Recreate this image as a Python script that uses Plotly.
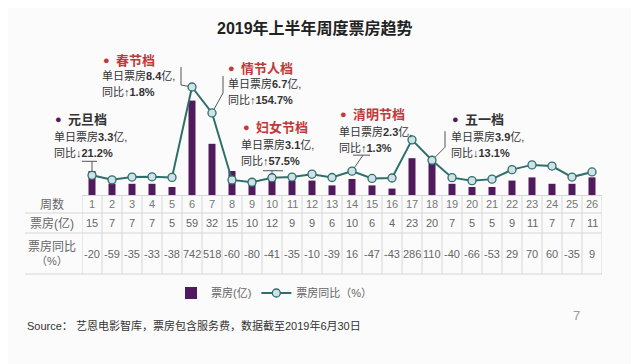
import plotly.graph_objects as go

# ---------------- data ----------------
weeks = list(range(1, 27))
box_office = [15, 7, 7, 7, 5, 59, 32, 15, 10, 12, 9, 9, 6, 10, 6, 4, 23, 20, 7, 5, 5, 9, 11, 7, 7, 11]
yoy = [-20, -59, -35, -33, -38, 742, 518, -60, -80, -41, -35, -10, -39, 16, -47, -43,
       286, 110, -40, -66, -53, 29, 70, 60, -35, 9]

row_labels = ["周数", "票房(亿)", "票房同比"]
callout_titles = ["元旦档", "春节档", "情节人档", "妇女节档", "清明节档", "五一档"]
callout_weeks = [1, 6, 7, 10, 14, 18]
callout_daily = ["3.3", "8.4", "6.7", "3.1", "2.3", "3.9"]
callout_arrow = ["↓", "↑", "↑", "↑", "↑", "↓"]
callout_pct = ["21.2%", "1.8%", "154.7%", "57.5%", "1.3%", "13.1%"]

title = "2019年上半年周度票房趋势"
source = "Source： 艺恩电影智库，票房包含服务费，数据截至2019年6月30日"

# ---------------- layout geometry (screenshot pixels) ----------------
SW, SH = 639, 364          # browser window
OX, OY = 8, 8              # page body margin
W, H = SW - OX, SH - OY    # figure size
PL, PR, PT, PB = 82, 602, 60, 195
FONT = "Liberation Sans, Noto Sans CJK SC, sans-serif"
PURPLE = "#511a5f"
TEAL = "#2f6f6b"
RED = "#c0393a"
GRAY = "#666666"
GRID = "#d6d6d6"


def xp(px):
    return (px - PL) / (PR - PL)


def yp(py):
    return (PB - py) / (PB - PT)


fig = go.Figure()
fig.add_trace(go.Bar(
    x=weeks, y=box_office, name="票房(亿)", marker_color=PURPLE,
    marker_line_width=0, yaxis="y",
))
fig.add_trace(go.Scatter(
    x=weeks, y=yoy, name="票房同比（%）", mode="lines+markers", yaxis="y2",
    line=dict(color=TEAL, width=2),
    marker=dict(size=8, color="#cfe2e7", line=dict(color=TEAL, width=1.3)),
))

annotations = []
shapes = []

# title
annotations.append(dict(x=xp(315), y=yp(28), xref="paper", yref="paper", showarrow=False,
                        text="<b>" + title + "</b>", font=dict(size=16, color="#222", family=FONT),
                        xanchor="center", yanchor="middle"))

# table text
row_y = [204, 223, 254]
for w, b, v in zip(weeks, box_office, yoy):
    annotations.append(dict(x=w, y=yp(row_y[0]), xref="x", yref="paper", showarrow=False,
                            text=str(w), font=dict(size=11, color="#777", family=FONT),
                            xanchor="center", yanchor="middle"))
    annotations.append(dict(x=w, y=yp(row_y[1]), xref="x", yref="paper", showarrow=False,
                            text=str(b), font=dict(size=11, color=GRAY, family=FONT),
                            xanchor="center", yanchor="middle"))
    annotations.append(dict(x=w, y=yp(row_y[2]), xref="x", yref="paper", showarrow=False,
                            text=str(v), font=dict(size=11, color=GRAY, family=FONT),
                            xanchor="center", yanchor="middle"))
label_y = [204, 223, 246]
for lab, ly in zip(row_labels, label_y):
    annotations.append(dict(x=xp(52), y=yp(ly), xref="paper", yref="paper", showarrow=False,
                            text=lab, font=dict(size=12, color="#666", family=FONT),
                            xanchor="center", yanchor="middle"))
annotations.append(dict(x=xp(52), y=yp(261), xref="paper", yref="paper", showarrow=False,
                        text="（%）", font=dict(size=11, color="#666", family=FONT),
                        xanchor="center", yanchor="middle"))

# table grid
for k in range(27):
    shapes.append(dict(type="line", xref="x", yref="paper", x0=k + 0.5, x1=k + 0.5,
                       y0=yp(196), y1=yp(274), line=dict(color=GRID, width=1)))
for py in [213, 233, 274]:
    shapes.append(dict(type="line", xref="paper", yref="paper", x0=xp(25), x1=xp(602),
                       y0=yp(py), y1=yp(py), line=dict(color=GRID, width=1)))
shapes.append(dict(type="line", xref="paper", yref="paper", x0=xp(82), x1=xp(602),
                   y0=yp(195.5), y1=yp(195.5), line=dict(color=GRID, width=1)))

# callouts: (dot x, title y, text left x, line1 y, line2 y)
callout_pos = [
    (58, 119, 53, 137, 153),
    (106, 60, 101, 76, 92),
    (231, 68, 227, 84, 100),
    (246, 127, 240, 145, 161),
    (343, 114, 338, 132, 148),
    (455, 119, 450, 137, 153),
]
callout_color = ["#333", RED, RED, RED, RED, "#333"]
dot_color = [PURPLE, RED, RED, RED, RED, PURPLE]
# leader paths in pixel offsets from the data point (y up)
leader_paths = [
    "M -14,14 L 5,14 M 0,14 L 0,0",
    "M -11,20 L -11,2 L 0,0",
    "M 11,37 L 11,20 L 0,0",
    "M -9,7 L 11,7 M 0,7 L 0,0",
    "M 1,16 L 18,16 M 11,16 L 0,0",
    "M 13,29 L 13,13 L 0,0",
]
for i, (t, wk) in enumerate(zip(callout_titles, callout_weeks)):
    dx, ty, lx, l1, l2 = callout_pos[i]
    annotations.append(dict(x=xp(dx), y=yp(ty), xref="paper", yref="paper", showarrow=False,
                            text="●", font=dict(size=11, color=dot_color[i], family=FONT),
                            xanchor="center", yanchor="middle"))
    annotations.append(dict(x=xp(dx + 8), y=yp(ty), xref="paper", yref="paper", showarrow=False,
                            text="<b>" + t + "</b>", font=dict(size=13, color=callout_color[i], family=FONT),
                            xanchor="left", yanchor="middle"))
    annotations.append(dict(x=xp(lx - 1), y=yp(l1), xref="paper", yref="paper", showarrow=False,
                            text="单日票房<b>" + callout_daily[i] + "</b>亿,",
                            font=dict(size=11, color="#333", family=FONT),
                            xanchor="left", yanchor="middle"))
    annotations.append(dict(x=xp(lx - 1), y=yp(l2), xref="paper", yref="paper", showarrow=False,
                            text="同比" + callout_arrow[i] + "<b>" + callout_pct[i] + "</b>",
                            font=dict(size=11, color="#333", family=FONT),
                            xanchor="left", yanchor="middle"))
    shapes.append(dict(type="path", xref="x", yref="y2", xsizemode="pixel", ysizemode="pixel",
                       xanchor=wk, yanchor=yoy[wk - 1], path=leader_paths[i],
                       line=dict(color="#555", width=1), layer="below"))

# source and page number
annotations.append(dict(x=xp(25), y=yp(325), xref="paper", yref="paper", showarrow=False,
                        text=source, font=dict(size=11, color="#333", family=FONT),
                        xanchor="left", yanchor="middle"))
annotations.append(dict(x=xp(576), y=yp(315), xref="paper", yref="paper", showarrow=False,
                        text="7", font=dict(size=13, color="#999", family=FONT),
                        xanchor="center", yanchor="middle"))

fig.update_layout(
    width=W, height=H,
    margin=dict(l=PL - OX, r=SW - PR, t=PT - OY, b=SH - PB, pad=0, autoexpand=False),
    paper_bgcolor="#fbfbfb", plot_bgcolor="rgba(0,0,0,0)",
    bargap=0.65,
    showlegend=True,
    legend=dict(orientation="h", x=xp(171), y=yp(293), xanchor="left", yanchor="middle",
                font=dict(size=11, color=GRAY, family=FONT), bgcolor="rgba(0,0,0,0)"),
    xaxis=dict(range=[0.5, 26.5], showticklabels=False, showgrid=False, zeroline=False,
               showline=False, ticks=""),
    yaxis=dict(range=[0, (PB - PT) / 1.6], visible=False, showgrid=False),
    yaxis2=dict(range=[(173 - PB) / 0.1159, (173 - PT) / 0.1159], visible=False,
                overlaying="y", showgrid=False),
    annotations=annotations,
    shapes=shapes,
    font=dict(family=FONT),
)

fig.write_html("out.html")
